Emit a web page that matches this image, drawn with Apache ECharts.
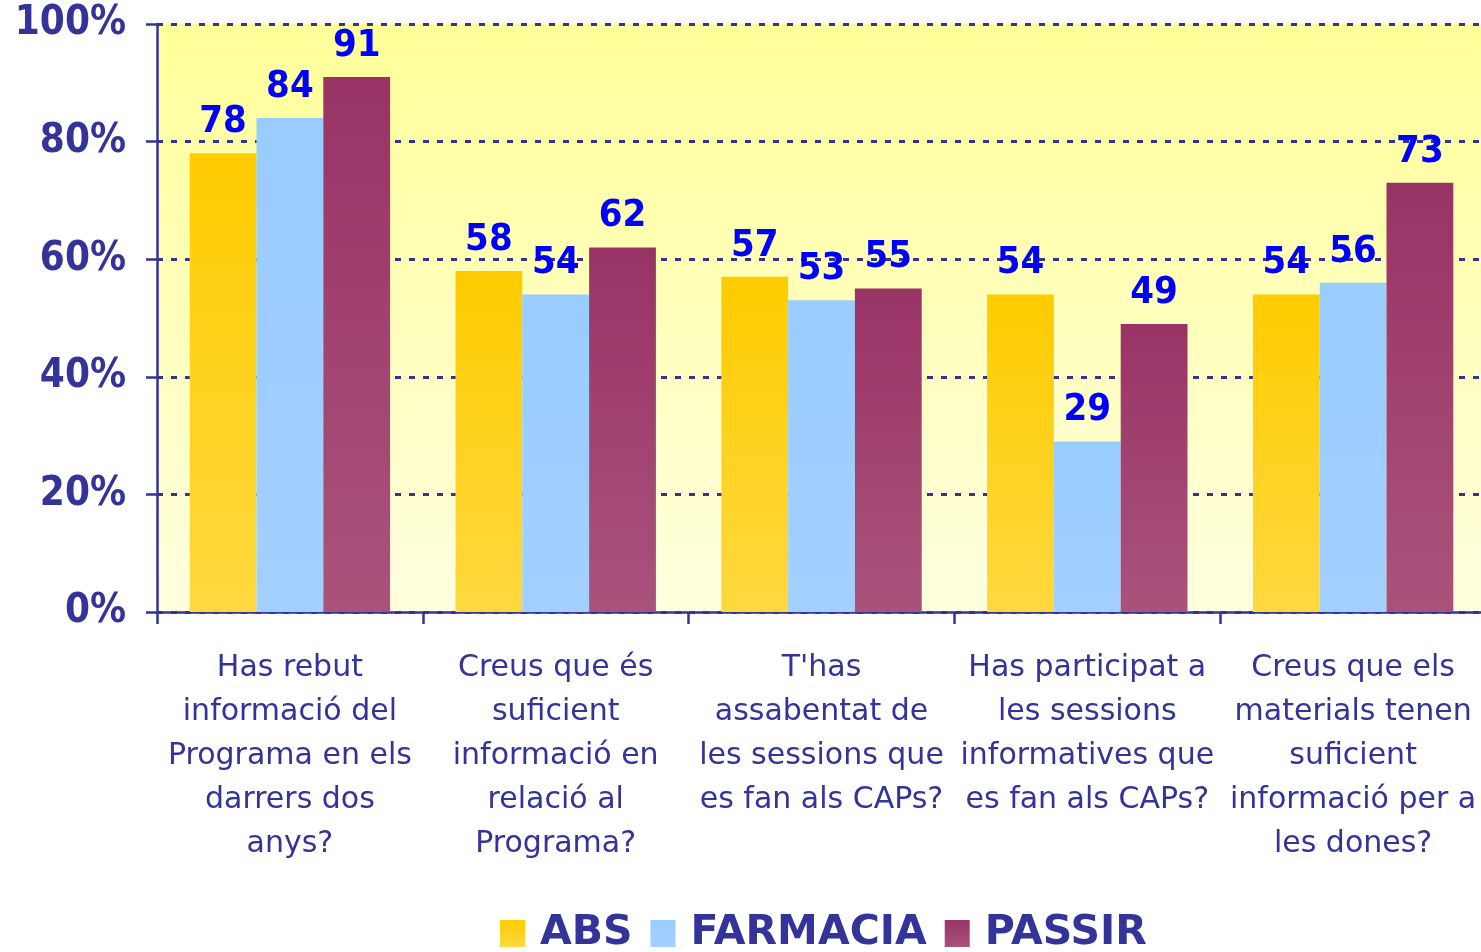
<!DOCTYPE html>
<html>
<head>
<meta charset="utf-8">
<script src="https://cdn.jsdelivr.net/npm/echarts@6/dist/echarts.min.js"></script>
<style>
  html, body { margin: 0; padding: 0; background: #fff; overflow: hidden; }
  #chart { width: 1492px; height: 952px; }
</style>
</head>
<body>
<div id="chart"></div>
<script>
// preguntes (eix x)
var categories = [
    'Has rebut\ninformació del\nPrograma en els\ndarrers dos\nanys?',
    'Creus que és\nsuficient\ninformació en\nrelació al\nPrograma?',
    "T'has\nassabentat de\nles sessions que\nes fan als CAPs?",
    'Has participat a\nles sessions\ninformatives que\nes fan als CAPs?',
    'Creus que els\nmaterials tenen\nsuficient\ninformació per a\nles dones?'
];
var seriesNames = ['ABS', 'FARMACIA', 'PASSIR'];
var absValues = [78, 58, 57, 54, 54];
var farmaciaValues = [84, 54, 53, 29, 56];
var passirValues = [91, 62, 55, 49, 73];
var yTicks = [0, 20, 40, 60, 80, 100];

var navy = '#333399';
var boldFont = '"DejaVu Sans Condensed", "DejaVu Sans", sans-serif';

function grad(top, bottom) {
    return new echarts.graphic.LinearGradient(0, 0, 0, 1, [
        {offset: 0, color: top},
        {offset: 1, color: bottom}
    ]);
}

function barSeries(name, data, top, bottom) {
    return {
        name: name,
        type: 'bar',
        data: data,
        barGap: '0%',
        barCategoryGap: '24.6%',
        itemStyle: {color: grad(top, bottom)},
        label: {
            show: true,
            position: 'top',
            distance: 12,
            color: '#0000ff',
            fontFamily: boldFont,
            fontWeight: 'bold',
            fontSize: 38
        }
    };
}

var chart = echarts.init(document.getElementById('chart'));
var option = {
    backgroundColor: '#fff',
    animation: false,
    grid: {
        left: 157,
        top: 24,
        width: 1329,
        height: 588,
        show: true,
        borderWidth: 0,
        backgroundColor: grad('#ffff99', '#ffffe0')
    },
    legend: {
        left: 495,
        top: 908,
        itemWidth: 25,
        itemHeight: 27,
        itemGap: 18,
        icon: 'rect',
        textStyle: {
            color: navy,
            fontFamily: 'DejaVu Sans',
            fontWeight: 'bold',
            fontSize: 41,
            padding: [0, 0, 0, 10]
        },
        data: seriesNames
    },
    xAxis: {
        type: 'category',
        data: categories,
        axisLine: {lineStyle: {color: navy, width: 2.5}},
        axisTick: {show: true, length: 12, lineStyle: {color: navy, width: 2.5}},
        axisLabel: {
            interval: 0,
            margin: 34,
            color: navy,
            fontFamily: 'DejaVu Sans',
            fontSize: 30,
            lineHeight: 44,
            align: 'center',
            verticalAlign: 'top'
        }
    },
    yAxis: {
        type: 'value',
        min: yTicks[0],
        max: yTicks[yTicks.length - 1],
        interval: 20,
        axisLine: {show: true, lineStyle: {color: navy, width: 2.5}},
        axisTick: {show: true, length: 11, lineStyle: {color: navy, width: 2.5}},
        axisLabel: {
            margin: 31,
            color: navy,
            fontFamily: boldFont,
            fontWeight: 'bold',
            fontSize: 40,
            formatter: '{value}%'
        },
        splitLine: {
            show: true,
            lineStyle: {color: navy, width: 3, type: [6, 8]}
        }
    },
    series: [
        barSeries(seriesNames[0], absValues, '#ffcc00', '#fed83f'),
        barSeries(seriesNames[1], farmaciaValues, '#99ccff', '#a3d0ff'),
        barSeries(seriesNames[2], passirValues, '#993366', '#a9537b')
    ]
};
chart.setOption(option);
</script>
</body>
</html>
